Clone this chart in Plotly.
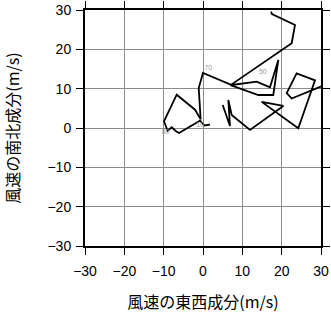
import plotly.graph_objects as go

# Hodograph: east-west (u) and north-south (v) wind components, m/s
u_a = [1.78, 0.38, -0.76, -6.10, -6.94, -7.96, -8.98, -9.92, -6.69, -2.03, -0.6,
       -1.09, 0.0, 7.30, 13.65, 17.03, 19.15, 17.87, 14.06, 7.0, 22.55, 23.39,
       17.54, 17.29]
v_a = [0.84, 0.64, 1.86, -1.27, -0.76, 0.18, -0.69, 1.70, 8.47, 4.65, 2.2,
       10.17, 13.98, 10.93, 11.77, 10.35, 17.29, 8.39, 8.39, 10.9, 21.54, 26.19,
       28.99, 29.6]
u_b = [30.6, 22.55, 21.28, 23.8, 28.48, 24.22, 14.92, 20.42, 11.95, 7.29, 6.44,
       6.86, 5.01]
v_b = [10.8, 7.5, 8.9, 13.9, 12.13, -0.08, 6.64, 5.6, -0.5, 3.31, 7.12,
       0.51, 5.85]

label_text = ["70", "50", "10", "80"]
label_u = [1.35, 15.2, -0.7, -9.5]
label_v = [15.3, 14.3, 0.6, -1.0]

ticks = [-30, -20, -10, 0, 10, 20, 30]
tick_text = ["\u221230", "\u221220", "\u221210", "0", "10", "20", "30"]

u = u_a + [None] + u_b
v = v_a + [None] + v_b

fig = go.Figure()
fig.add_trace(go.Scatter(x=u, y=v, mode="lines",
                         line=dict(color="black", width=1.8),
                         connectgaps=False, showlegend=False, hoverinfo="skip"))
fig.add_trace(go.Scatter(x=label_u, y=label_v, mode="text", text=label_text,
                         textfont=dict(size=7, color="#9a9a9a",
                                       family="Liberation Sans, Arial"),
                         showlegend=False, hoverinfo="skip"))

axis_common = dict(
    range=[-30, 30], tickvals=ticks, ticktext=tick_text, automargin=False,
    showgrid=True, gridcolor="#8c8c8c", gridwidth=1, zeroline=False,
    showline=True, linecolor="black", linewidth=2, mirror="ticks",
    ticks="outside", ticklen=7, tickcolor="black", tickwidth=1,
    tickfont=dict(size=14, color="black", family="Liberation Sans, Arial"),
)

fig.update_layout(
    width=331, height=318,
    margin=dict(l=85, r=10, t=10, b=72),
    paper_bgcolor="white", plot_bgcolor="white",
    xaxis=dict(**axis_common, ticklabelstandoff=4,
               title=dict(text="風速の東西成分(m/s)",
                          font=dict(size=16, family="Noto Sans CJK JP", color="black"),
                          standoff=19)),
    yaxis=dict(**axis_common, ticklabelstandoff=2,
               title=dict(text="風速の南北成分(m/s)",
                          font=dict(size=16, family="Noto Sans CJK JP", color="black"),
                          standoff=28)),
)

fig.write_html("out.html")
